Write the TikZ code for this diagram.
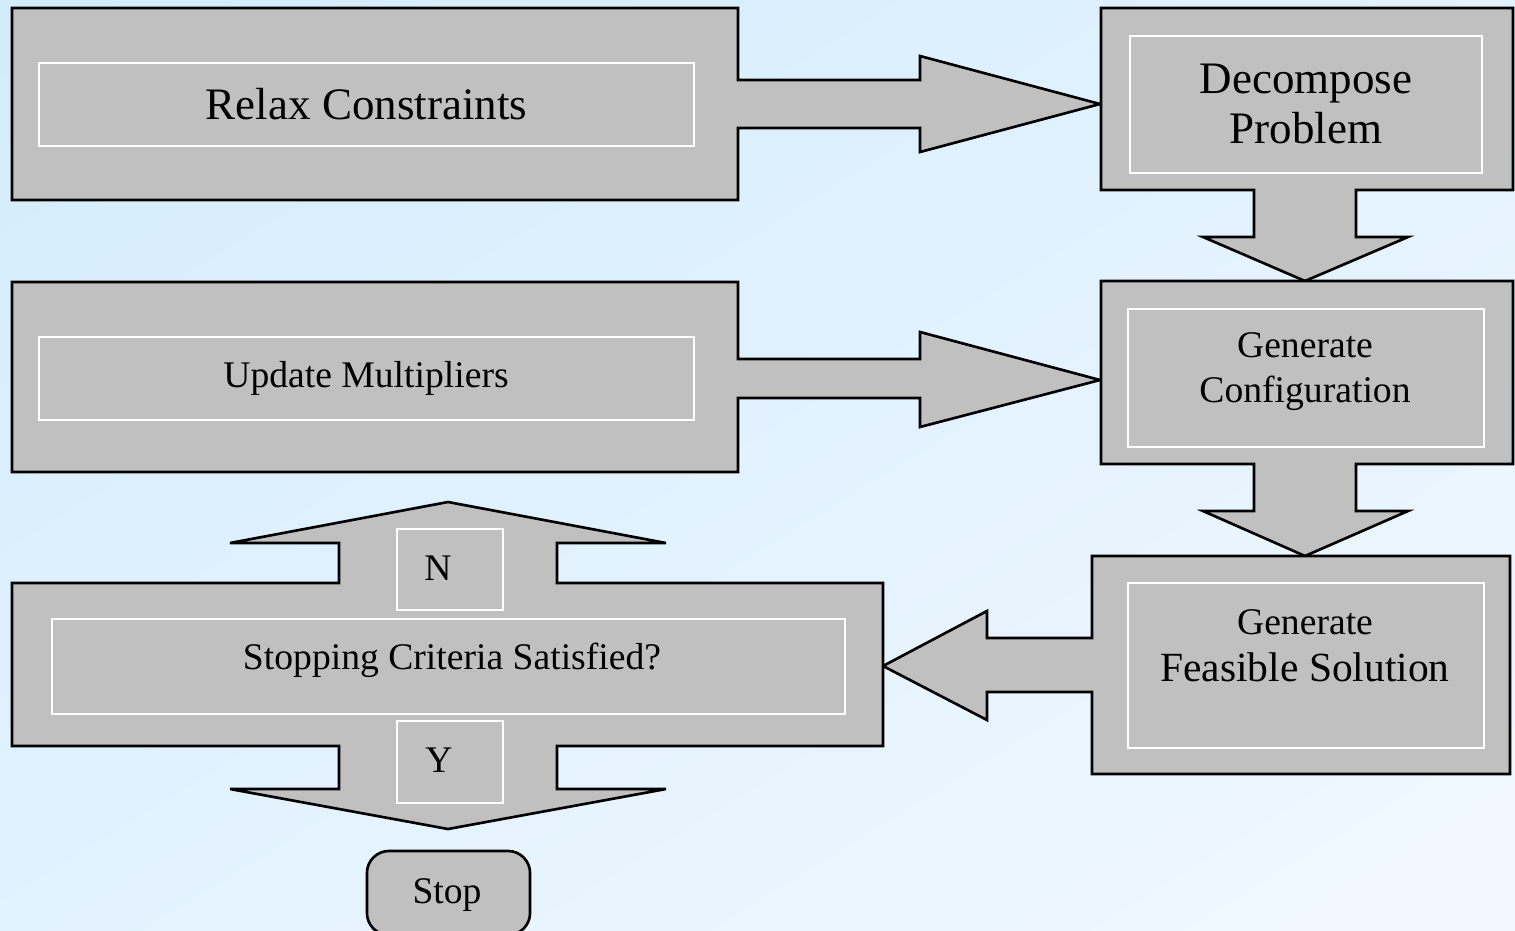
\documentclass[tikz,border=0pt]{standalone}
\usepackage{fontspec}
\setmainfont{Liberation Serif}
\usetikzlibrary{shadings}
\definecolor{boxgray}{RGB}{192,192,192}
\definecolor{bgA}{RGB}{210,236,252}
\definecolor{bgB}{RGB}{226,242,254}
\definecolor{bgC}{RGB}{242,248,255}
\tikzset{
  outer/.style={fill=boxgray, draw=black, line width=0.75pt, line join=miter},
  ibox/.style={draw=white, line width=0.6pt, inner sep=0pt, fill=none},
  bigtxt/.style={font=\fontsize{12.8}{14.2}\selectfont, align=center, inner sep=0pt},
  midtxt/.style={font=\fontsize{10.7}{12.8}\selectfont, align=center, inner sep=0pt},
}
\begin{document}
\begin{tikzpicture}[x=0.01cm,y=-0.01cm]
\useasboundingbox (0,0) rectangle (1515,930);
\clip (0,0) rectangle (1515,930);
\shade[upper left=bgA, upper right=bgB, lower left=bgB, lower right=bgC] (0,0) rectangle (1515,930);

% Relax Constraints + right arrow
\draw[outer] (12,8) -- (738,8) -- (738,80) -- (920,80) -- (920,56) -- (1100,104)
  -- (920,152) -- (920,128) -- (738,128) -- (738,200) -- (12,200) -- cycle;
\node[ibox, minimum width=6.55cm, minimum height=0.83cm] (relaxbox) at (366.5,104.5) {};
\node[bigtxt] (relax) at (366.5,104) {Relax Constraints};

% Decompose Problem + down arrow
\draw[outer] (1101,8) -- (1513,8) -- (1513,190) -- (1356,190) -- (1356,237) -- (1408,237)
  -- (1305,281) -- (1203,237) -- (1254,237) -- (1254,190) -- (1101,190) -- cycle;
\node[ibox, minimum width=3.52cm, minimum height=1.37cm] (decbox) at (1306,104.5) {};
\node[bigtxt] (dec) at (1306,104) {Decompose\\Problem};

% Update Multipliers + right arrow
\draw[outer] (12,282) -- (738,282) -- (738,359) -- (920,359) -- (920,332) -- (1100,380)
  -- (920,427) -- (920,398) -- (738,398) -- (738,472) -- (12,472) -- cycle;
\node[ibox, minimum width=6.55cm, minimum height=0.83cm] (updbox) at (366.5,378.5) {};
\node[midtxt] (upd) at (366,378) {Update Multipliers};

% Generate Configuration + down arrow
\draw[outer] (1101,281) -- (1513,281) -- (1513,464) -- (1356,464) -- (1356,511) -- (1408,511)
  -- (1305,556) -- (1203,511) -- (1254,511) -- (1254,464) -- (1101,464) -- cycle;
\node[ibox, minimum width=3.56cm, minimum height=1.38cm] (cfgbox) at (1306,378) {};
\node[midtxt] (cfg) at (1305,372) {Generate\\Configuration};

% Generate Feasible Solution + left arrow
\draw[outer] (1092,556) -- (1510,556) -- (1510,774) -- (1092,774) -- (1092,692) -- (987,692)
  -- (987,720) -- (883,666) -- (987,611) -- (987,638) -- (1092,638) -- cycle;
\node[ibox, minimum width=3.56cm, minimum height=1.65cm] (feasbox) at (1306,665.5) {};
\node[align=center, inner sep=0pt, font=\fontsize{11.8}{13.4}\selectfont] (feas) at (1305,646)
  {{\fontsize{10.7}{13.4}\selectfont Generate}\\Feasible Solution};

% Stopping criteria + up and down arrows
\draw[outer] (12,583) -- (339,583) -- (339,543) -- (230,543) -- (448,502) -- (666,543)
  -- (557,543) -- (557,583) -- (883,583) -- (883,746) -- (557,746) -- (557,789) -- (666,789)
  -- (448,829) -- (230,789) -- (339,789) -- (339,746) -- (12,746) -- cycle;
\node[ibox, minimum width=7.93cm, minimum height=0.95cm] (stopbox) at (448.5,666.5) {};
\node[midtxt] (crit) at (452,660) {Stopping Criteria Satisfied?};
\node[ibox, minimum width=1.06cm, minimum height=0.81cm] (nbox) at (450,569.5) {};
\node[midtxt] (n) at (438,568) {N};
\node[ibox, minimum width=1.06cm, minimum height=0.82cm] (ybox) at (450,762) {};
\node[midtxt] (y) at (439,760) {Y};

% Stop
\node[draw=black, line width=0.75pt, fill=boxgray, rounded corners=0.22cm,
  minimum width=1.63cm, minimum height=0.84cm, inner sep=0pt] (stop) at (448.5,893) {};
\node[midtxt] (stoptxt) at (447,895) {Stop};
\end{tikzpicture}
\end{document}
